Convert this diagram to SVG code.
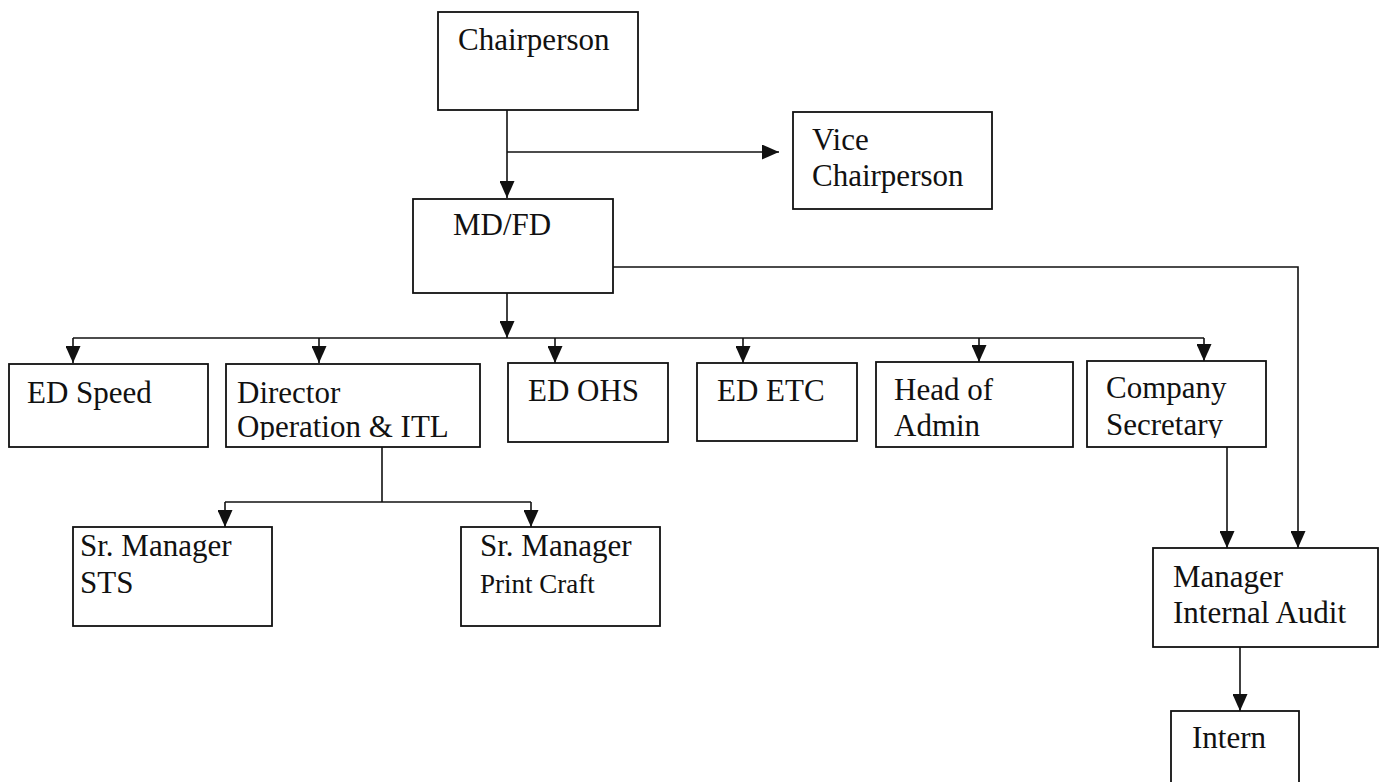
<svg xmlns="http://www.w3.org/2000/svg" width="1386" height="782" viewBox="0 0 1386 782">
<style>
  .box { fill: #ffffff; stroke: #111111; stroke-width: 1.8; }
  .t { font-family: "Liberation Serif", "Times New Roman", serif; font-size: 31px; fill: #111111; }
  .ts { font-family: "Liberation Serif", "Times New Roman", serif; font-size: 27px; fill: #111111; }
  .c { fill: none; stroke: #111111; stroke-width: 1.6; }
</style>
<defs>
  <marker id="arr" markerUnits="userSpaceOnUse" markerWidth="17" markerHeight="15" refX="17" refY="7.5" orient="auto">
    <path d="M0,0 L17,7.5 L0,15 z" fill="#111111"/>
  </marker>
  <clipPath id="clipDir"><rect x="226" y="364" width="254" height="76"/></clipPath>
  <clipPath id="clipSec"><rect x="1087" y="361" width="179" height="77"/></clipPath>
</defs>
<rect width="1386" height="782" fill="#ffffff"/>

<g id="connectors">
  <path class="c" d="M507,110 V198" marker-end="url(#arr)"/>
  <path class="c" d="M507,152 H779" marker-end="url(#arr)"/>
  <path class="c" d="M507,293 V338" marker-end="url(#arr)"/>
  <path class="c" d="M73,338 H1204"/>
  <path class="c" d="M73,338 V363" marker-end="url(#arr)"/>
  <path class="c" d="M319,338 V363" marker-end="url(#arr)"/>
  <path class="c" d="M555,338 V363" marker-end="url(#arr)"/>
  <path class="c" d="M743,338 V363" marker-end="url(#arr)"/>
  <path class="c" d="M979,338 V362" marker-end="url(#arr)"/>
  <path class="c" d="M1204,338 V361" marker-end="url(#arr)"/>
  <path class="c" d="M613,267 H1298 V548" marker-end="url(#arr)"/>
  <path class="c" d="M1227,447 V548" marker-end="url(#arr)"/>
  <path class="c" d="M382,447 V502"/>
  <path class="c" d="M225,502 H531"/>
  <path class="c" d="M225,502 V527" marker-end="url(#arr)"/>
  <path class="c" d="M531,502 V527" marker-end="url(#arr)"/>
  <path class="c" d="M1240,647 V711" marker-end="url(#arr)"/>
</g>

<g id="chairperson">
  <rect class="box" x="438" y="12" width="200" height="98"/>
  <text class="t" x="458" y="50">Chairperson</text>
</g>
<g id="vice-chairperson">
  <rect class="box" x="793" y="112" width="199" height="97"/>
  <text class="t" x="812" y="150">Vice</text>
  <text class="t" x="812" y="186">Chairperson</text>
</g>
<g id="md-fd">
  <rect class="box" x="413" y="199" width="200" height="94"/>
  <text class="t" x="453" y="235">MD/FD</text>
</g>
<g id="ed-speed">
  <rect class="box" x="9" y="364" width="199" height="83"/>
  <text class="t" x="27" y="403">ED Speed</text>
</g>
<g id="director-operation">
  <rect class="box" x="226" y="364" width="254" height="83"/>
  <text class="t" x="237" y="403">Director</text>
  <text class="t" x="237" y="437" clip-path="url(#clipDir)">Operation &amp; ITL</text>
</g>
<g id="ed-ohs">
  <rect class="box" x="508" y="363" width="160" height="79"/>
  <text class="t" x="528" y="401">ED OHS</text>
</g>
<g id="ed-etc">
  <rect class="box" x="697" y="363" width="160" height="78"/>
  <text class="t" x="717" y="401">ED ETC</text>
</g>
<g id="head-of-admin">
  <rect class="box" x="876" y="362" width="197" height="85"/>
  <text class="t" x="894" y="400">Head of</text>
  <text class="t" x="894" y="436">Admin</text>
</g>
<g id="company-secretary">
  <rect class="box" x="1087" y="361" width="179" height="86"/>
  <text class="t" x="1106" y="398">Company</text>
  <text class="t" x="1106" y="435" clip-path="url(#clipSec)">Secretary</text>
</g>
<g id="sr-manager-sts">
  <rect class="box" x="73" y="527" width="199" height="99"/>
  <text class="t" x="80" y="556">Sr. Manager</text>
  <text class="t" x="80" y="593">STS</text>
</g>
<g id="sr-manager-print-craft">
  <rect class="box" x="461" y="527" width="199" height="99"/>
  <text class="t" x="480" y="556">Sr. Manager</text>
  <text class="ts" x="480" y="593">Print Craft</text>
</g>
<g id="manager-internal-audit">
  <rect class="box" x="1153" y="548" width="225" height="99"/>
  <text class="t" x="1173" y="587">Manager</text>
  <text class="t" x="1173" y="623">Internal Audit</text>
</g>
<g id="intern">
  <rect class="box" x="1171" y="711" width="128" height="80"/>
  <text class="t" x="1192" y="748">Intern</text>
</g>
</svg>
